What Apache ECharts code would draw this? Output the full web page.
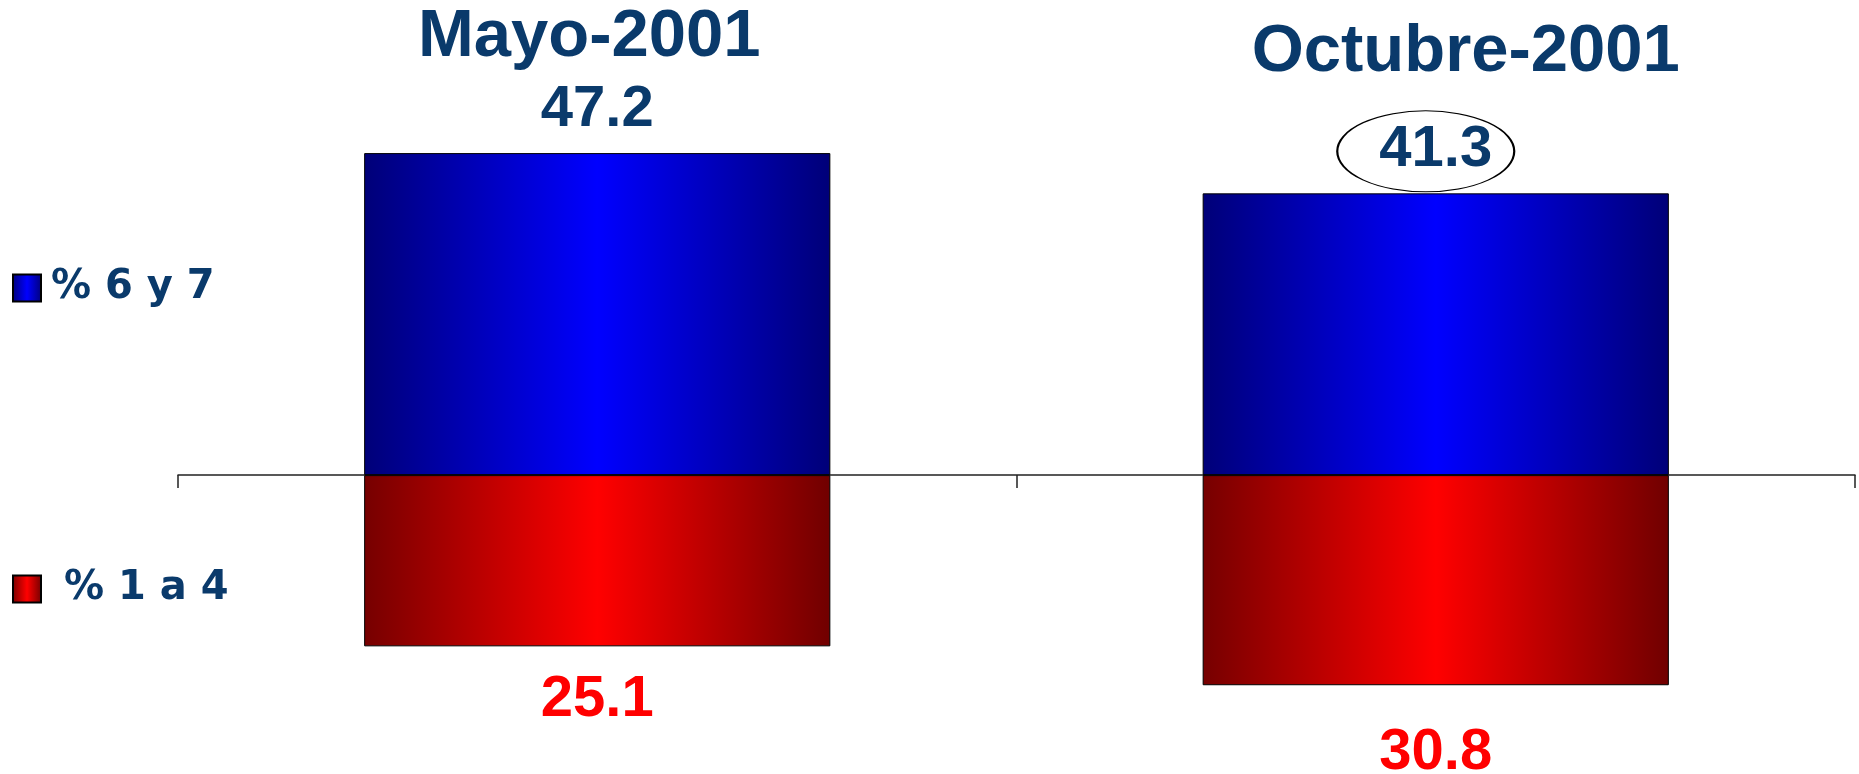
<!DOCTYPE html>
<html>
<head>
<meta charset="utf-8">
<script src="https://cdn.jsdelivr.net/npm/echarts@6/dist/echarts.min.js"></script>
<style>
html,body{margin:0;padding:0;background:#fff;}
#chart{width:1859px;height:774px;}
</style>
</head>
<body>
<div id="chart"></div>
<script>
const categories = ['Mayo-2001', 'Octubre-2001'];
const seriesNames = ['% 6 y 7', '% 1 a 4'];
const high67 = [47.2, 41.3];
const low14 = [-25.1, -30.8];

const navy = '#0a3a6b';
const blueGrad = {type:'linear', x:0, y:0, x2:1, y2:0, colorStops:[
  {offset:0, color:'#000078'},{offset:0.5, color:'#0000ff'},{offset:1, color:'#000078'}]};
const redGrad = {type:'linear', x:0, y:0, x2:1, y2:0, colorStops:[
  {offset:0, color:'#760000'},{offset:0.5, color:'#ff0000'},{offset:1, color:'#700000'}]};

const chart = echarts.init(document.getElementById('chart'), null, {renderer:'canvas'});
const titleStyle = {fontFamily:'Liberation Sans', fontWeight:'bold', fontSize:67, color:navy,
  textShadowColor:'#b4b4b4', textShadowOffsetX:3, textShadowOffsetY:3, textShadowBlur:0};
const legendText = {fontFamily:'DejaVu Sans', fontWeight:'bold', fontSize:40, color:navy, lineHeight:27};

const option = {
  animation:false,
  backgroundColor:'#fff',
  grid:{left:178, right:4, top:134, bottom:26},
  legend:[
    {data:[{name:seriesNames[0]}], orient:'vertical', left:12, top:268, padding:0, itemWidth:28, itemHeight:27,
     icon:'rect', selectedMode:false,
     textStyle:Object.assign({padding:[0,0,0,5]}, legendText)},
    {data:[{name:seriesNames[1]}], orient:'vertical', left:12, top:569, padding:0, itemWidth:28, itemHeight:27,
     icon:'rect', selectedMode:false,
     textStyle:Object.assign({padding:[0,0,0,18]}, legendText)}
  ],
  xAxis:[
    {type:'category', data:categories, position:'bottom',
     axisLine:{show:true, onZero:true, lineStyle:{color:'#222', width:1.5}},
     axisTick:{show:true, length:13, lineStyle:{color:'#222', width:1.5}},
     axisLabel:{show:false}},
    {type:'category', data:categories, position:'top',
     axisLine:{show:false, onZero:false}, axisTick:{show:false},
     axisLabel:{show:true, margin:48, verticalAlign:'bottom',
       formatter:(v, i) => (i === 0 ? '{a|' : '{b|') + v + '}',
       rich:{
         a:Object.assign({padding:[0,16,15,0]}, titleStyle),
         b:Object.assign({padding:[0,0,0,60]}, titleStyle)
       }}}
  ],
  yAxis:{type:'value', min:-40, max:50, show:false, splitLine:{show:false}},
  series:[
    {name:seriesNames[0], type:'bar', stack:'total', barWidth:'55.6%',
     data:high67,
     itemStyle:{color:blueGrad, borderColor:'#000', borderWidth:1},
     label:{show:true, position:'top', distance:14,
       formatter:p => Math.abs(p.value).toFixed(1),
       fontFamily:'Liberation Sans', fontWeight:'bold', fontSize:58, color:navy,
       textShadowColor:'#c8c8c8', textShadowOffsetX:2, textShadowOffsetY:2, textShadowBlur:0},
     markPoint:{
       data:[{coord:[categories[1], high67[1]], symbol:'circle', symbolSize:[177,81], symbolOffset:[-10,-42],
         itemStyle:{color:'rgba(255,255,255,0)', borderColor:'#000', borderWidth:1.5},
         label:{show:false}}],
       silent:true
     }},
    {name:seriesNames[1], type:'bar', stack:'total', barWidth:'55.6%',
     data:low14.map((v, i) => ({value:v, label:{distance: i === 0 ? 25 : 39}})),
     itemStyle:{color:redGrad, borderColor:'#000', borderWidth:1},
     label:{show:true, position:'bottom',
       formatter:p => Math.abs(p.value).toFixed(1),
       fontFamily:'Liberation Sans', fontWeight:'bold', fontSize:58, color:'#ff0000'}}
  ]
};
chart.setOption(option);
</script>
</body>
</html>
